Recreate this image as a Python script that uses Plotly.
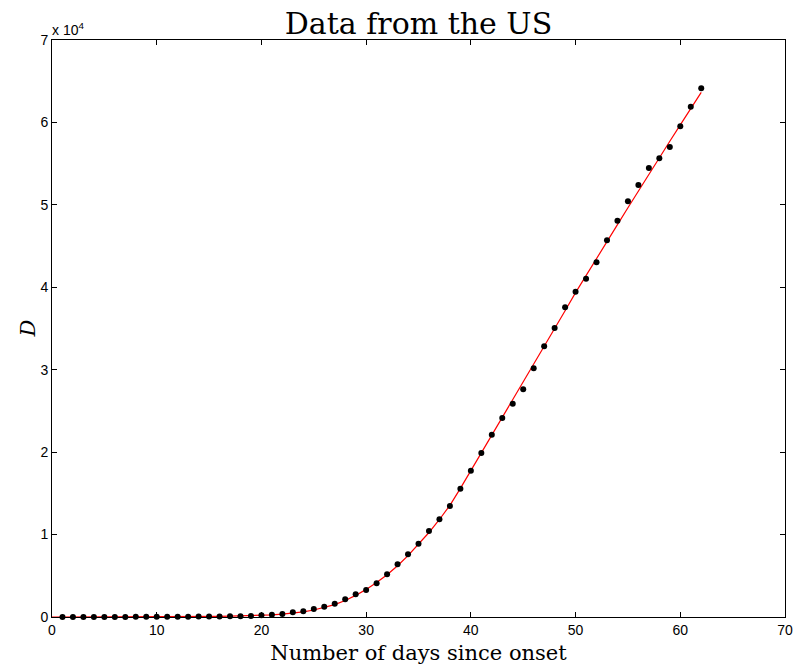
import plotly.graph_objects as go

# Observed data (days since onset, cumulative D)
days = list(range(1, 63))
deaths = [0, 0, 5, 8, 10, 12, 15, 18, 22, 26,
          30, 38, 42, 50, 58, 68, 85, 100, 120, 206,
          280, 364, 570, 690, 970, 1250, 1615, 2150, 2750, 3275,
          4090, 5180, 6390, 7600, 8890, 10430, 11850, 13470, 15570, 17750,
          19900, 22120, 24140, 25880, 27620, 30170, 32840, 35060, 37570, 39470,
          41040, 43030, 45700, 48080, 50430, 52410, 54470, 55650, 57020, 59530,
          61910, 64140]

# Fitted model curve
fit_days = list(range(0, 63))
fit_vals = [0, 0, 0, 2, 4, 6, 8, 11, 14, 18,
            22, 28, 35, 43, 52, 63, 78, 95, 118, 150,
            195, 260, 350, 470, 630, 850, 1130, 1500, 2000, 2620,
            3350, 4180, 5130, 6220, 7450, 8800, 10250, 11830, 13550, 15600,
            17750, 19920, 22080, 24250, 26400, 28500, 30550, 32750, 34950, 37150,
            39350, 41450, 43500, 45550, 47600, 49650, 51700, 53720, 55720, 57720,
            59700, 61680, 63650]

x_ticks = [0, 10, 20, 30, 40, 50, 60, 70]
y_ticks = [0, 10000, 20000, 30000, 40000, 50000, 60000, 70000]
y_tick_text = ["0", "1", "2", "3", "4", "5", "6", "7"]

fig = go.Figure()
fig.add_trace(go.Scatter(x=fit_days, y=fit_vals, mode="lines",
                         line=dict(color="#ff0000", width=1.2),
                         cliponaxis=False, showlegend=False))
fig.add_trace(go.Scatter(x=days, y=deaths, mode="markers",
                         marker=dict(color="black", size=6),
                         cliponaxis=False, showlegend=False))

axis_common = dict(showline=True, linecolor="black", linewidth=1, mirror="ticks",
                   ticks="inside", ticklen=5, tickcolor="black", showgrid=False,
                   zeroline=False, layer="below traces", automargin=False,
                   ticklabeloverflow="allow",
                   tickfont=dict(family="Liberation Sans, Arial", size=14, color="black"))

fig.update_layout(
    width=793, height=668,
    margin=dict(l=52, r=8, t=40, b=51),
    paper_bgcolor="white", plot_bgcolor="white",
    title=dict(text="Data from the US", x=0.5, xanchor="center", xref="paper",
               y=1, yref="paper", yanchor="bottom", pad=dict(b=6),
               font=dict(family="DejaVu Serif", size=30, color="black")),
    xaxis=dict(range=[0, 70], tickvals=x_ticks, **axis_common,
               title=dict(text="Number of days since onset", standoff=8,
                          font=dict(family="DejaVu Serif", size=21, color="black"))),
    yaxis=dict(range=[0, 70000], tickvals=y_ticks, ticktext=y_tick_text, **axis_common),
    annotations=[
        dict(text="x 10<sup>4</sup>", xref="paper", yref="paper",
             x=0, y=1, xanchor="left", yanchor="bottom", showarrow=False,
             yshift=0, xshift=-2,
             font=dict(family="Liberation Sans, Arial", size=14, color="black")),
        dict(text="<i>D</i>", xref="paper", yref="paper", x=0, y=0.5,
             xanchor="center", yanchor="middle", showarrow=False, textangle=-90,
             xshift=-25,
             font=dict(family="DejaVu Serif", size=21, color="black")),
    ],
)

fig.write_html("out.html", config={"displayModeBar": False},
               post_script="document.body.style.margin='0';document.body.style.overflow='hidden';")
